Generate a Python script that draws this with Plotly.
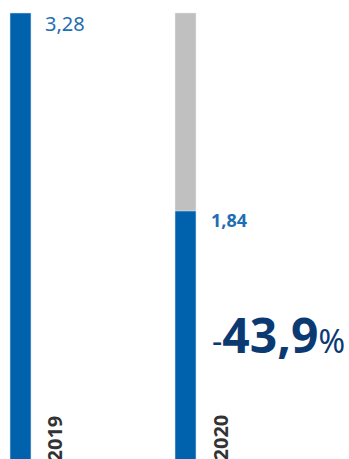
import plotly.graph_objects as go

years = ["2019", "2020"]
values = [3.28, 1.84]
previous = [3.28, 3.28]
value_labels = ["3,28", "1,84"]
change_label = "43,9"

BLUE = "#0061ad"
GREY = "#c0c0c0"
NAVY = "#0b3a72"

fig = go.Figure()
# grey reference bar = previous year's level
fig.add_trace(go.Bar(x=years, y=previous, marker_color=GREY, width=0.127,
                     hoverinfo="skip"))
fig.add_trace(go.Bar(x=years, y=values, marker_color=BLUE, width=0.127,
                     hovertemplate="%{x}: %{y}<extra></extra>"))

# value labels (category axis -> annotations use the category index)
fig.add_annotation(x=0, y=values[0], text=value_labels[0], showarrow=False,
                   xanchor="left", yanchor="middle", xshift=23, yshift=-11,
                   font=dict(size=20, color="#1f6db3", family="Noto Sans"))
fig.add_annotation(x=1, y=values[1], text="<b>" + value_labels[1] + "</b>",
                   showarrow=False, xanchor="left", yanchor="middle", xshift=23, yshift=-9,
                   font=dict(size=18, color="#1f6db3", family="Noto Sans"))

# year labels, rotated
for i, yr in enumerate(years):
    fig.add_annotation(x=i, yref="paper", y=0, text="<b>" + yr + "</b>", showarrow=False,
                       textangle=-90, xanchor="center", yanchor="bottom",
                       xshift=34, yshift=-4,
                       font=dict(size=20, color="#333333", family="Noto Sans"))

# change
fig.add_annotation(xref="paper", yref="paper", x=210 / 349, y=1 - 334 / 459,
                   xanchor="left", yanchor="middle", showarrow=False,
                   text="<span style='font-size:32px'>-</span><b>" + change_label +
                        "</b><span style='font-size:32px'>%</span>",
                   font=dict(size=48, color=NAVY, family="Noto Sans"))

hidden = dict(showgrid=False, zeroline=False, showticklabels=False, showline=False,
              ticks="", fixedrange=True)
fig.update_layout(
    width=349, height=459,
    barmode="overlay", showlegend=False,
    margin=dict(l=0, r=0, t=0, b=0),
    paper_bgcolor="white", plot_bgcolor="white",
    xaxis=dict(type="category", range=[-0.1242, 1.9909], **hidden),
    yaxis=dict(range=[0.0364, 3.3745], **hidden),
)
fig.write_html("out.html", config={"displayModeBar": False},
               post_script="document.body.style.margin='0';")
